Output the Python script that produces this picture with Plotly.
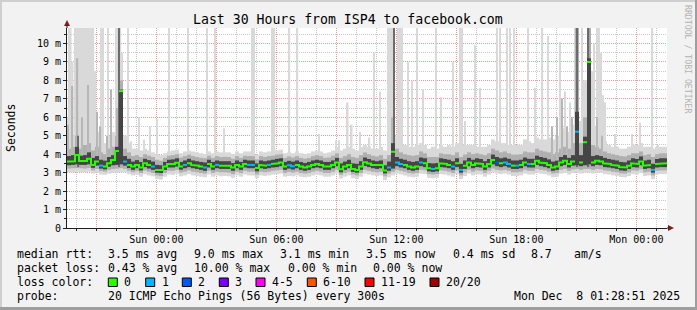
import plotly.graph_objects as go
import pandas as pd

# ---------------- data ----------------
START = "2025-12-06 19:32:00"
END = "2025-12-08 01:32:00"
STEP_MINUTES = 12

median_ms = [3.60, 3.62, 3.96, 3.63, 3.63, 3.75, 3.42, 3.60, 3.38, 3.33,
             3.51, 3.69, 4.18, 7.42, 3.60, 3.42, 3.33, 3.42, 3.28, 3.51,
             3.42, 3.33, 3.15, 3.15, 3.33, 3.47, 3.47, 3.53, 3.33, 3.42,
             3.51, 3.42, 3.38, 3.33, 3.28, 3.47, 3.33, 3.42, 3.38, 3.38,
             3.38, 3.28, 3.42, 3.33, 3.47, 3.42, 3.42, 3.25, 3.42, 3.38,
             3.42, 3.47, 3.51, 3.55, 3.33, 3.40, 3.35, 3.42, 3.33, 3.28,
             3.33, 3.42, 3.47, 3.42, 3.33, 3.33, 3.42, 3.55, 3.18, 3.33,
             3.42, 3.20, 3.15, 3.33, 3.57, 3.49, 3.42, 3.38, 3.42, 3.12,
             3.28, 4.13, 3.55, 3.47, 3.42, 3.33, 3.28, 3.33, 3.55, 3.51,
             3.24, 3.20, 3.24, 3.51, 3.47, 3.42, 3.33, 3.51, 3.15, 3.38,
             3.55, 3.42, 3.51, 3.47, 3.33, 3.47, 3.69, 3.55, 3.51, 3.55,
             3.47, 3.38, 3.38, 3.42, 3.55, 3.47, 3.47, 3.65, 3.55, 3.51,
             3.42, 3.28, 3.33, 3.55, 3.65, 3.47, 3.60, 5.22, 3.55, 4.65,
             9.00, 3.55, 3.65, 3.60, 3.51, 3.47, 3.42, 3.38, 3.30, 3.28,
             3.38, 3.51, 3.47, 3.60, 3.38, 3.42, 3.15, 3.47, 3.51, 3.51]

loss_count = [0, 0, 0, 0, 0, 0, 0, 0, 1, 0,
              0, 0, 0, 0, 1, 0, 0, 0, 0, 0,
              0, 1, 0, 0, 0, 0, 0, 0, 0, 1,
              0, 0, 0, 0, 1, 0, 0, 1, 0, 0,
              0, 0, 0, 0, 0, 1, 1, 0, 0, 0,
              1, 0, 0, 0, 0, 1, 1, 0, 0, 0,
              0, 0, 0, 0, 0, 0, 0, 0, 0, 0,
              0, 0, 0, 0, 0, 0, 0, 0, 0, 0,
              1, 0, 1, 1, 0, 0, 0, 0, 1, 0,
              0, 1, 0, 0, 0, 0, 1, 0, 1, 0,
              0, 0, 0, 0, 0, 0, 0, 2, 0, 1,
              1, 0, 1, 0, 0, 1, 0, 0, 0, 0,
              0, 0, 0, 0, 0, 0, 0, 1, 0, 0,
              0, 0, 0, 0, 0, 0, 0, 0, 0, 0,
              0, 0, 0, 0, 0, 0, 1, 0, 0, 0]

smoke_min = [3.02, 3.00, 3.05, 3.02, 3.00, 3.05, 2.95, 3.00, 2.90, 2.88,
             2.95, 3.00, 3.00, 3.02, 3.00, 2.92, 2.85, 2.88, 2.78, 2.92,
             2.85, 2.80, 2.65, 2.62, 2.78, 2.90, 2.88, 2.95, 2.80, 2.85,
             2.92, 2.85, 2.82, 2.78, 2.75, 2.90, 2.78, 2.85, 2.80, 2.82,
             2.80, 2.72, 2.85, 2.78, 2.90, 2.85, 2.84, 2.70, 2.85, 2.82,
             2.85, 2.90, 2.92, 2.95, 2.78, 2.82, 2.80, 2.85, 2.78, 2.75,
             2.78, 2.85, 2.90, 2.85, 2.78, 2.78, 2.85, 2.95, 2.68, 2.78,
             2.85, 2.70, 2.65, 2.78, 2.95, 2.90, 2.85, 2.82, 2.85, 2.60,
             2.75, 2.85, 2.95, 2.90, 2.85, 2.78, 2.75, 2.78, 2.95, 2.92,
             2.72, 2.70, 2.72, 2.92, 2.90, 2.85, 2.78, 2.92, 2.65, 2.82,
             2.95, 2.85, 2.92, 2.90, 2.78, 2.90, 3.02, 2.95, 2.92, 2.95,
             2.90, 2.82, 2.82, 2.85, 2.95, 2.90, 2.90, 3.00, 2.95, 2.92,
             2.85, 2.75, 2.78, 2.95, 3.00, 2.90, 2.98, 3.00, 2.95, 3.00,
             3.00, 2.95, 3.00, 3.00, 2.92, 2.90, 2.85, 2.82, 2.76, 2.75,
             2.82, 2.92, 2.90, 2.98, 2.82, 2.85, 2.65, 2.90, 2.92, 2.92]

smoke_lo = [3.22, 3.24, 3.25, 3.24, 3.22, 3.25, 3.12, 3.20, 3.08, 3.05,
            3.15, 3.20, 3.22, 3.25, 3.20, 3.10, 3.02, 3.08, 2.98, 3.12,
            3.05, 2.98, 2.85, 2.82, 2.98, 3.10, 3.10, 3.15, 3.00, 3.05,
            3.12, 3.05, 3.02, 2.98, 2.95, 3.10, 2.98, 3.05, 3.02, 3.02,
            3.00, 2.92, 3.05, 2.98, 3.10, 3.05, 3.05, 2.90, 3.05, 3.02,
            3.05, 3.10, 3.12, 3.15, 2.98, 3.04, 3.00, 3.05, 2.98, 2.95,
            2.98, 3.05, 3.10, 3.05, 2.98, 2.98, 3.05, 3.15, 2.88, 2.98,
            3.05, 2.90, 2.85, 2.98, 3.15, 3.10, 3.05, 3.02, 3.05, 2.80,
            2.95, 3.05, 3.15, 3.10, 3.05, 2.98, 2.95, 2.98, 3.15, 3.12,
            2.92, 2.90, 2.92, 3.12, 3.10, 3.05, 2.98, 3.12, 2.85, 3.02,
            3.15, 3.05, 3.12, 3.10, 2.98, 3.10, 3.22, 3.15, 3.12, 3.15,
            3.10, 3.02, 3.02, 3.05, 3.15, 3.10, 3.10, 3.20, 3.15, 3.12,
            3.05, 2.95, 2.98, 3.15, 3.20, 3.10, 3.18, 3.20, 3.15, 3.20,
            3.20, 3.15, 3.20, 3.18, 3.12, 3.10, 3.05, 3.02, 2.96, 2.95,
            3.02, 3.12, 3.10, 3.18, 3.02, 3.05, 2.85, 3.10, 3.12, 3.12]

core_lo = [3.40, 3.42, 3.45, 3.42, 3.42, 3.45, 3.26, 3.38, 3.22, 3.18,
           3.32, 3.40, 3.42, 3.45, 3.38, 3.25, 3.15, 3.24, 3.12, 3.30,
           3.22, 3.15, 3.00, 2.98, 3.15, 3.28, 3.28, 3.33, 3.16, 3.24,
           3.30, 3.24, 3.20, 3.15, 3.10, 3.28, 3.15, 3.24, 3.20, 3.20,
           3.20, 3.10, 3.24, 3.15, 3.28, 3.24, 3.24, 3.07, 3.24, 3.20,
           3.24, 3.28, 3.30, 3.35, 3.15, 3.22, 3.17, 3.24, 3.15, 3.10,
           3.15, 3.24, 3.28, 3.24, 3.15, 3.15, 3.24, 3.35, 3.02, 3.15,
           3.24, 3.04, 3.00, 3.15, 3.36, 3.30, 3.24, 3.20, 3.24, 2.96,
           3.10, 3.22, 3.35, 3.28, 3.24, 3.15, 3.10, 3.15, 3.35, 3.30,
           3.07, 3.04, 3.07, 3.30, 3.28, 3.24, 3.15, 3.30, 3.00, 3.20,
           3.35, 3.24, 3.30, 3.28, 3.15, 3.28, 3.45, 3.35, 3.30, 3.35,
           3.28, 3.20, 3.20, 3.24, 3.35, 3.28, 3.28, 3.42, 3.35, 3.30,
           3.24, 3.10, 3.15, 3.35, 3.42, 3.28, 3.38, 3.40, 3.35, 3.40,
           3.45, 3.35, 3.42, 3.40, 3.30, 3.28, 3.24, 3.20, 3.12, 3.10,
           3.20, 3.30, 3.28, 3.40, 3.20, 3.24, 3.00, 3.28, 3.30, 3.30]

core_hi = [3.90, 3.95, 4.40, 3.92, 3.95, 4.10, 3.80, 3.90, 3.70, 3.65,
           3.85, 3.95, 4.40, 7.50, 3.90, 3.75, 3.60, 3.68, 3.58, 3.75,
           3.68, 3.60, 3.42, 3.40, 3.58, 3.70, 3.72, 3.78, 3.58, 3.66,
           3.75, 3.66, 3.62, 3.58, 3.55, 3.70, 3.58, 3.66, 3.62, 3.62,
           3.62, 3.52, 3.66, 3.58, 3.70, 3.66, 3.66, 3.50, 3.66, 3.62,
           3.66, 3.70, 3.75, 3.78, 3.58, 3.64, 3.60, 3.66, 3.58, 3.52,
           3.58, 3.66, 3.70, 3.66, 3.58, 3.58, 3.66, 3.80, 3.50, 3.60,
           3.70, 3.50, 3.48, 3.62, 3.82, 3.74, 3.66, 3.62, 3.66, 3.40,
           3.60, 4.60, 3.85, 3.75, 3.70, 3.62, 3.58, 3.62, 3.82, 3.78,
           3.52, 3.50, 3.52, 3.78, 3.74, 3.70, 3.62, 3.78, 3.48, 3.66,
           3.80, 3.70, 3.78, 3.74, 3.62, 3.74, 3.98, 3.85, 3.78, 3.82,
           3.75, 3.66, 3.66, 3.70, 3.82, 3.75, 3.75, 3.92, 3.85, 3.80,
           3.72, 3.60, 3.65, 3.85, 3.95, 3.80, 3.95, 6.30, 3.95, 4.95,
           9.20, 3.90, 3.95, 3.90, 3.80, 3.74, 3.70, 3.66, 3.58, 3.56,
           3.66, 3.78, 3.74, 3.88, 3.66, 3.70, 3.48, 3.74, 3.78, 3.78]

smoke_hi = [4.30, 4.40, 5.00, 4.30, 4.50, 4.60, 4.20, 4.40, 4.10, 4.00,
            4.30, 4.40, 5.00, 8.00, 4.30, 4.10, 3.90, 3.95, 3.85, 4.00,
            3.92, 3.85, 3.70, 3.65, 3.80, 3.92, 3.95, 4.00, 3.82, 3.90,
            3.98, 3.90, 3.85, 3.80, 3.78, 3.92, 3.80, 3.90, 3.85, 3.86,
            3.85, 3.75, 3.90, 3.80, 3.92, 3.90, 3.90, 3.72, 3.90, 3.85,
            3.90, 3.92, 3.98, 4.00, 3.80, 3.88, 3.82, 3.90, 3.80, 3.76,
            3.80, 3.90, 3.95, 3.90, 3.80, 3.82, 3.92, 4.05, 3.80, 3.90,
            4.00, 3.85, 3.80, 3.95, 4.10, 4.00, 3.92, 3.88, 3.95, 3.75,
            3.95, 5.50, 4.30, 4.10, 4.00, 3.95, 3.92, 3.95, 4.15, 4.05,
            3.85, 3.85, 3.85, 4.05, 4.00, 4.00, 3.95, 4.10, 3.85, 3.98,
            4.10, 4.00, 4.05, 4.00, 3.95, 4.05, 4.30, 4.20, 4.10, 4.15,
            4.05, 3.98, 3.98, 4.00, 4.15, 4.10, 4.10, 4.30, 4.20, 4.15,
            4.10, 4.00, 4.10, 4.30, 4.40, 4.30, 4.60, 11.5, 4.60, 6.00,
            11.5, 4.50, 4.40, 4.30, 4.15, 4.05, 4.00, 3.95, 3.90, 3.88,
            3.95, 4.05, 4.05, 4.15, 3.95, 4.00, 3.85, 4.00, 4.05, 4.05]

smoke_max = [5.2, 5.0, 6.0, 5.2, 5.5, 5.4, 5.0, 5.2, 4.8, 4.6,
             5.0, 5.2, 6.0, 9.5, 5.0, 4.6, 4.3, 4.3, 4.2, 4.3,
             4.2, 4.1, 4.0, 3.95, 4.05, 4.15, 4.2, 4.25, 4.05, 4.15,
             4.2, 4.15, 4.1, 4.05, 4.0, 4.15, 4.05, 4.15, 4.1, 4.1,
             4.1, 4.0, 4.15, 4.05, 4.15, 4.15, 4.15, 3.95, 4.15, 4.1,
             4.15, 4.15, 4.2, 4.25, 4.05, 4.1, 4.05, 4.15, 4.05, 4.0,
             4.05, 4.15, 4.2, 4.15, 4.05, 4.1, 4.2, 4.4, 4.2, 4.3,
             4.4, 4.3, 4.2, 4.4, 4.5, 4.4, 4.3, 4.3, 4.4, 4.2,
             4.5, 7.0, 5.0, 4.6, 4.5, 4.4, 4.4, 4.5, 4.6, 4.5,
             4.3, 4.4, 4.3, 4.5, 4.4, 4.5, 4.4, 4.6, 4.4, 4.5,
             4.5, 4.5, 4.4, 4.4, 4.4, 4.5, 4.8, 4.7, 4.6, 4.6,
             4.5, 4.5, 4.5, 4.5, 4.8, 4.7, 4.6, 4.9, 4.8, 4.8,
             4.9, 4.8, 5.0, 5.2, 5.4, 5.2, 5.6, 11.5, 5.8, 8.0,
             11.5, 6.0, 5.5, 5.0, 4.7, 4.5, 4.4, 4.4, 4.3, 4.3,
             4.4, 4.5, 4.5, 4.6, 4.4, 4.4, 4.3, 4.4, 4.4, 4.4]

# single-ping outliers (minutes after START, top in ms)
light_spike_min = [1, 6, 11, 17, 24, 29, 34, 40, 45, 50, 54, 60, 65, 69, 74, 79, 85,
                   103, 108, 123, 147, 152, 160, 183, 192, 216, 231, 249, 270, 306,
                   363, 420, 444, 471, 555, 561, 615, 622, 667, 691, 756, 807, 816,
                   842, 854, 879, 907, 921, 939, 963, 969, 975, 993, 999, 1005, 1023,
                   1035, 1050, 1068, 1107, 1122, 1158, 1179, 1185, 1194, 1224, 1239,
                   1290, 1299, 1320, 1329, 1341, 1383, 1404, 1426, 1443, 1479, 1494,
                   1509, 1524, 1545, 1575, 1581, 1590, 1596, 1602, 1608, 1614, 1644,
                   1695, 1719, 1756, 1773]
light_spike_top = [6.0, 11.5, 11.5, 9.0, 11.5, 11.5, 11.5, 11.5, 11.5, 11.5, 11.5, 11.5,
                   11.5, 11.5, 11.5, 11.5, 8.5,
                   11.5, 11.5, 11.5, 11.5, 11.5, 11.5, 11.5, 4.7, 6.0, 4.8, 5.5, 5.9, 11.5,
                   11.5, 11.5, 11.5, 5.4, 11.5, 11.5, 11.5, 11.5, 11.5, 11.5, 5.1, 4.75, 4.75,
                   6.8, 5.6, 5.2, 4.9, 9.5, 7.4, 11.5, 11.5, 11.5, 11.5, 11.5, 11.5, 9.0,
                   8.0, 11.5, 7.5, 11.5, 7.1, 9.0, 11.5, 11.5, 5.8, 9.9, 7.6,
                   11.5, 11.5, 11.5, 11.5, 11.5, 11.5, 7.6, 11.5, 10.4, 10.1, 7.4,
                   6.8, 11.5, 11.5, 8.5, 10.0, 11.5, 11.5, 9.5, 7.2, 6.8, 5.1,
                   5.1, 5.7, 11.5, 4.5]
mid_spike_min = [3, 16, 31, 45, 63, 90, 100, 120, 132, 150, 975, 1455, 1470, 1485,
                 1500, 1515, 1590, 1605]
mid_spike_top = [5.6, 7.7, 9.2, 6.0, 7.75, 6.3, 5.5, 5.0, 7.5, 6.5, 6.0, 5.5, 6.0, 7.0,
                 5.5, 6.0, 6.0, 5.0]
dark_spike_min = [33, 156, 981, 1530, 1564]
dark_spike_top = [5.0, 11.5, 11.5, 11.5, 11.5]

x_tick_times = ["2025-12-06 21:00", "2025-12-07 00:00", "2025-12-07 03:00",
                "2025-12-07 06:00", "2025-12-07 09:00", "2025-12-07 12:00",
                "2025-12-07 15:00", "2025-12-07 18:00", "2025-12-07 21:00",
                "2025-12-08 00:00"]
x_tick_labels = ["", "Sun 00:00", "", "Sun 06:00", "", "Sun 12:00", "",
                 "Sun 18:00", "", "Mon 00:00"]
y_tick_vals = [0, 1, 2, 3, 4, 5, 6, 7, 8, 9, 10]
y_tick_labels = ["0", "1 m", "2 m", "3 m", "4 m", "5 m", "6 m", "7 m", "8 m",
                 "9 m", "10 m"]

loss_labels = ["0", "1", "2", "3", "4-5", "6-10", "11-19", "20/20"]
loss_upper = [0, 1, 2, 3, 5, 10, 19, 20]
loss_colors = ["#26ff00", "#00b8ff", "#0059ff", "#7a00ff", "#ff00ff",
               "#ff5500", "#ff0000", "#a00000"]

title_text = "Last 30 Hours from ISP4 to facebook.com"
rtt_stats = ["median rtt:", "3.5 ms avg", "9.0 ms max", "3.1 ms min",
             "3.5 ms now", "0.4 ms sd", "8.7", "am/s"]
loss_stats = ["packet loss:", "0.43 % avg", "10.00 % max", "0.00 % min",
              "0.00 % now"]
probe_text = "20 ICMP Echo Pings (56 Bytes) every 300s"
stamp_text = "Mon Dec\u00a0\u00a08 01:28:51 2025"

# ---------------- layout geometry (pixels) ----------------
W_PX, H_PX = 697, 310
L, T, PW, PH = 67, 28, 600, 200
MONO = "DejaVu Sans Mono"


def px(x):
    return (x - L) / PW


def py(y):
    return (T + PH - y) / PH


t0 = pd.Timestamp(START)
n = len(median_ms)
step = pd.Timedelta(minutes=STEP_MINUTES)
fmt = "%Y-%m-%d %H:%M:%S"
centers = [(t0 + step * i + step / 2).strftime(fmt) for i in range(n)]
BW = STEP_MINUTES * 60 * 1000

fig = go.Figure()


def band(lo, hi, color, width=BW, xs=centers):
    fig.add_trace(go.Bar(x=xs, base=lo, y=[h - l for l, h in zip(lo, hi)],
                         width=width, marker=dict(color=color, line=dict(width=0)),
                         hoverinfo="skip", showlegend=False))


def spikes(mins, tops, color):
    xs = [(t0 + pd.Timedelta(minutes=m)).strftime(fmt) for m in mins]
    base = [3.3] * len(mins)
    band(base, tops, color, width=5 * 60 * 1000, xs=xs)


LIGHT, MID, DARK, CORE = "#d9d9d9", "#b0b0b0", "#6c6c6c", "#454545"
band(smoke_min, smoke_max, LIGHT)
spikes(light_spike_min, light_spike_top, LIGHT)
band(smoke_lo, smoke_hi, MID)
spikes(mid_spike_min, mid_spike_top, "#b6b6b6")
spikes(dark_spike_min, dark_spike_top, DARK)
band(core_lo, core_hi, CORE)


def loss_class(c):
    for k, up in enumerate(loss_upper):
        if c <= up:
            return k
    return len(loss_upper) - 1


classes = [loss_class(c) for c in loss_count]
for k, col in enumerate(loss_colors):
    xs, ys = [], []
    for i in range(n):
        if classes[i] != k:
            continue
        a = (t0 + step * i).strftime(fmt)
        b = (t0 + step * (i + 1)).strftime(fmt)
        xs += [a, b]
        ys += [median_ms[i], median_ms[i]]
        joined = (i + 1 < n and classes[i + 1] == k
                  and abs(median_ms[i + 1] - median_ms[i]) < 0.6)
        if not joined:
            xs.append(None)
            ys.append(None)
    if xs:
        fig.add_trace(go.Scatter(x=xs, y=ys, mode="lines",
                                 line=dict(color=col, width=2),
                                 hoverinfo="skip", showlegend=False))

hours = pd.date_range("2025-12-06 20:00", "2025-12-08 01:00", freq="1h")

fig.update_layout(
    width=W_PX, height=H_PX, autosize=False,
    margin=dict(l=L, r=W_PX - L - PW, t=T, b=H_PX - T - PH, pad=0),
    paper_bgcolor="#f2f2f2", plot_bgcolor="#ffffff",
    barmode="overlay", showlegend=False,
    font=dict(family=MONO, size=10, color="#000000"),
    xaxis=dict(type="date", range=[START, END], fixedrange=True,
               tickmode="array", tickvals=x_tick_times, ticktext=x_tick_labels,
               showgrid=True, gridcolor="#eb9a9a", griddash="1px,1px", gridwidth=1,
               ticks="outside", ticklen=2, tickcolor="#1f1f1f",
               showline=True, linecolor="#1f1f1f", linewidth=1,
               tickfont=dict(family=MONO, size=10),
               minor=dict(tickmode="array", tickvals=[h.strftime(fmt) for h in hours],
                          showgrid=True, gridcolor="#c9c9c9", griddash="1px,1px",
                          ticks="outside", ticklen=2, tickcolor="#1f1f1f"),
               zeroline=False),
    yaxis=dict(range=[0, 10.84], fixedrange=True,
               tickmode="array", tickvals=y_tick_vals, ticktext=y_tick_labels,
               showgrid=True, gridcolor="#eb9a9a", griddash="1px,1px", gridwidth=1,
               ticks="outside", ticklen=3, tickcolor="#1f1f1f",
               showline=True, linecolor="#1f1f1f", linewidth=1,
               tickfont=dict(family=MONO, size=10),
               minor=dict(dtick=0.5, showgrid=True, gridcolor="#c9c9c9",
                          griddash="1px,1px", ticks="outside", ticklen=2,
                          tickcolor="#1f1f1f"),
               zeroline=False),
)

shapes = []
# frame shading
shapes.append(dict(type="rect", xref="paper", yref="paper", x0=px(0), x1=px(W_PX),
                   y0=py(0), y1=py(2), fillcolor="#cfcfcf", line=dict(width=0), layer="below"))
shapes.append(dict(type="rect", xref="paper", yref="paper", x0=px(0), x1=px(2),
                   y0=py(0), y1=py(H_PX), fillcolor="#cfcfcf", line=dict(width=0), layer="below"))
shapes.append(dict(type="rect", xref="paper", yref="paper", x0=px(0), x1=px(W_PX),
                   y0=py(H_PX - 3), y1=py(H_PX), fillcolor="#9e9e9e", line=dict(width=0), layer="below"))
shapes.append(dict(type="rect", xref="paper", yref="paper", x0=px(W_PX - 2), x1=px(W_PX),
                   y0=py(0), y1=py(H_PX), fillcolor="#9e9e9e", line=dict(width=0), layer="below"))
# axis arrows
ARROW = "#801f1f"
shapes.append(dict(type="path", xref="paper", yref="paper",
                   path=f"M {px(668)},{py(225)} L {px(674)},{py(228)} L {px(668)},{py(231)} Z",
                   fillcolor=ARROW, line=dict(color=ARROW, width=0)))
shapes.append(dict(type="path", xref="paper", yref="paper",
                   path=f"M {px(64)},{py(26)} L {px(67)},{py(20)} L {px(70)},{py(26)} Z",
                   fillcolor=ARROW, line=dict(color=ARROW, width=0)))
shapes.append(dict(type="line", xref="paper", yref="paper", x0=px(67), x1=px(67),
                   y0=py(28), y1=py(25), line=dict(color="#1f1f1f", width=1)))
shapes.append(dict(type="line", xref="paper", yref="paper", x0=px(667), x1=px(669),
                   y0=py(228), y1=py(228), line=dict(color="#1f1f1f", width=1)))

# loss colour legend boxes
box_x = [108.3, 145.7, 182.3, 219.3, 256, 307.3, 365, 430]
for bx, col in zip(box_x, loss_colors):
    shapes.append(dict(type="rect", xref="paper", yref="paper",
                       x0=px(bx), x1=px(bx + 9), y0=py(286.5), y1=py(278),
                       fillcolor=col, line=dict(color="#000000", width=1)))
fig.update_layout(shapes=shapes)

ann = []


def text(x, y, s, size=11.5, anchor="left", angle=0, color="#000000"):
    ann.append(dict(x=px(x), y=py(y), xref="paper", yref="paper", text=s,
                    showarrow=False, xanchor=anchor, yanchor="middle",
                    textangle=angle, borderpad=0,
                    font=dict(family=MONO, size=size, color=color)))


text(348, 19, title_text, size=13.2, anchor="center")
text(11, 128, "Seconds", size=11.5, anchor="center", angle=-90)
text(688, 59, "RRDTOOL / TOBI OETIKER", size=8.2, anchor="center", angle=90,
     color="#b3b3b3")

rtt_x = [16, 107.3, 193.3, 279.3, 365, 451.7, 530, 572.7]
for x, s in zip(rtt_x, rtt_stats):
    text(x, 254.3, s)
loss_x = [16, 107.3, 193.3, 287.3, 372]
for x, s in zip(loss_x, loss_stats):
    text(x, 268.3, s)
text(16, 282.3, "loss color:")
for bx, s in zip(box_x, loss_labels):
    text(bx + 15, 282.3, s)
text(16, 296, "probe:")
text(107.3, 296, probe_text)
text(512.7, 296, stamp_text)
fig.update_layout(annotations=ann)

fig.write_html("out.html", config={"displayModeBar": False})
